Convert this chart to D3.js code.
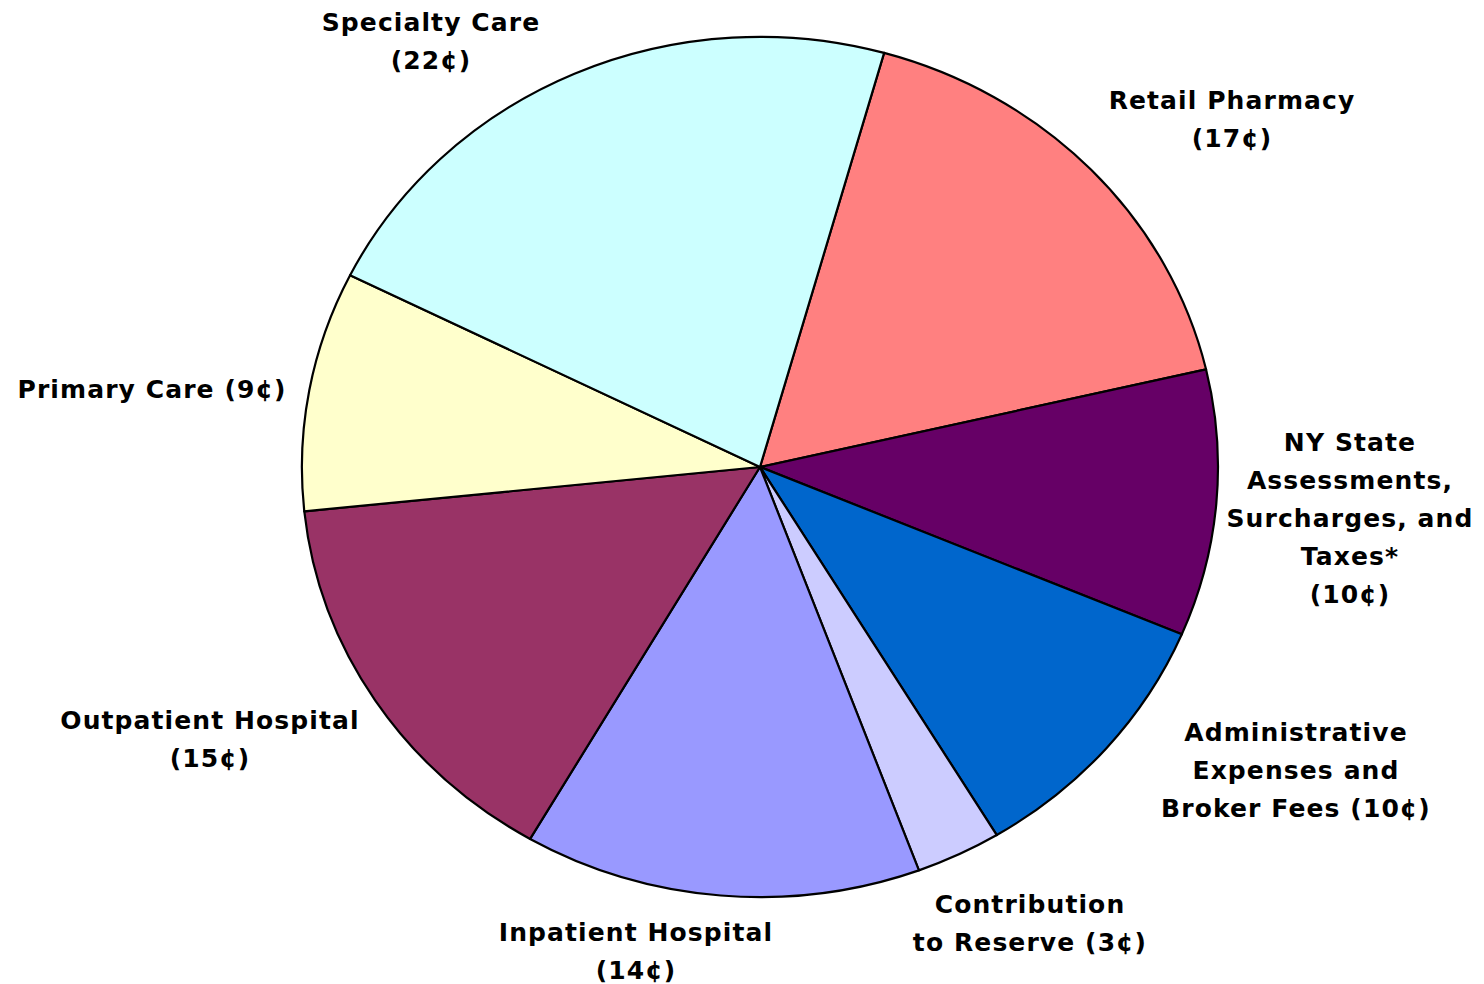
<!DOCTYPE html>
<html>
<head>
<meta charset="utf-8">
<script src="https://cdn.jsdelivr.net/npm/d3@7"></script>
<style>
  body { margin: 0; background: #fff; }
  svg text { font-family: "DejaVu Sans", Verdana, sans-serif; font-weight: bold; font-size: 25px; letter-spacing: 1.1px; fill: #000; }
</style>
</head>
<body>
<div id="app"></div>
<script>
// slices clockwise, starting at Retail Pharmacy
var categories = ["Retail Pharmacy", "NY State Assessments", "Administrative Expenses", "Contribution to Reserve",
                  "Inpatient Hospital", "Outpatient Hospital", "Primary Care", "Specialty Care"]
var cents = [17, 10, 10, 3, 14, 15, 9, 22]
var colours = ["#FF8080", "#660066", "#0066CC", "#CCCCFF", "#9999FF", "#993366", "#FFFFCC", "#CCFFFF"]
var labelLines = [
  ["Retail Pharmacy", "(17¢)"],
  ["NY State", "Assessments,", "Surcharges, and", "Taxes*", "(10¢)"],
  ["Administrative", "Expenses and", "Broker Fees (10¢)"],
  ["Contribution", "to Reserve (3¢)"],
  ["Inpatient Hospital", "(14¢)"],
  ["Outpatient Hospital", "(15¢)"],
  ["Primary Care (9¢)"],
  ["Specialty Care", "(22¢)"]
]
var labelAnchors = [[1232, 100], [1350, 442], [1296, 732], [1030, 904], [636, 932], [210, 720], [152, 389], [431, 22]]

var W = 1484, H = 984
var cx = 760, cy = 467, rx = 458, ry = 430
var startDeg = 15.7
var lineGap = 38

var svg = d3.select("#app").append("svg").attr("width", W).attr("height", H)

var pie = d3.pie().sort(null).value(d => d)
  .startAngle(startDeg * Math.PI / 180)
  .endAngle((startDeg + 360) * Math.PI / 180)
var arc = d3.arc().innerRadius(0).outerRadius(1)

var g = svg.append("g").attr("transform", "translate(" + cx + "," + cy + ") scale(" + rx + "," + ry + ")")
g.selectAll("path").data(pie(cents)).enter().append("path")
  .attr("d", arc)
  .attr("fill", (d, i) => colours[i])
  .attr("stroke", "#000")
  .attr("stroke-width", 2.2)
  .attr("stroke-linejoin", "round")
  .attr("vector-effect", "non-scaling-stroke")

var labels = svg.selectAll(".lbl").data(labelLines).enter().append("text").classed("lbl", true)
  .attr("text-anchor", "middle")
labels.each(function (lines, i) {
  var t = d3.select(this)
  lines.forEach(function (s, k) {
    t.append("tspan").attr("x", labelAnchors[i][0]).attr("y", labelAnchors[i][1] + k * lineGap)
      .attr("dy", "0.35em").text(s)
  })
})
</script>
</body>
</html>
